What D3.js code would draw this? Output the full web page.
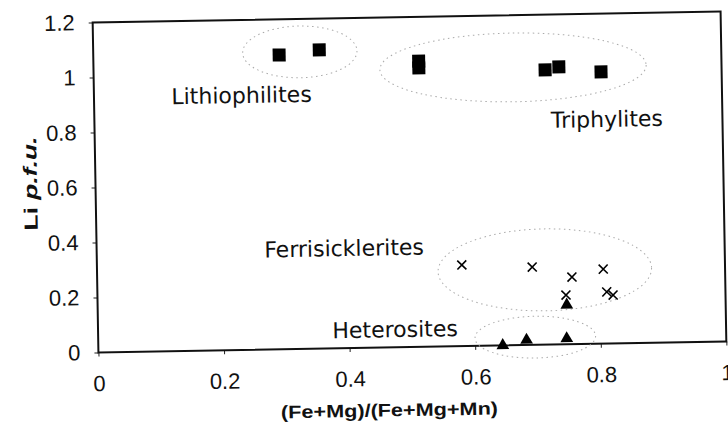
<!DOCTYPE html>
<html>
<head>
<meta charset="utf-8">
<script src="https://cdn.jsdelivr.net/npm/d3@7"></script>
<style>
  body { margin: 0; background: #fff; }
</style>
</head>
<body>
<div id="chart"></div>
<script>
// group -> points, [x, y] = [(Fe+Mg)/(Fe+Mg+Mn), Li p.f.u.]
var lithiophilites = [[0.296, 1.07], [0.360, 1.086]];
var triphylites = [[0.518, 1.039], [0.518, 1.014], [0.719, 0.999], [0.741, 1.009], [0.808, 0.988]];
var ferrisicklerites = [[0.581, 0.295], [0.693, 0.283], [0.756, 0.244], [0.746, 0.179],
                        [0.806, 0.271], [0.811, 0.188], [0.821, 0.176]];
var heterosites = [[0.747, 0.143], [0.644, 0.0], [0.682, 0.018], [0.746, 0.021]];

// dotted ellipses round each group: [cx, cy, rx, ry] in data units
var groupNames = ["Lithiophilites", "Triphylites", "Ferrisicklerites", "Heterosites"];
var groupEllipses = [[0.329, 1.08, 0.091, 0.094], [0.668, 1.010, 0.212, 0.125],
                     [0.713, 0.272, 0.170, 0.149], [0.696, 0.028, 0.096, 0.076]];
var groupLabelAt = [[0.235, 0.898], [0.816, 0.788], [0.394, 0.335], [0.473, 0.037]];

var xTicks = [0, 0.2, 0.4, 0.6, 0.8, 1];
var xTickLabels = ["0", "0.2", "0.4", "0.6", "0.8", "1"];
var yTicks = [0, 0.2, 0.4, 0.6, 0.8, 1, 1.2];
var yTickLabels = ["0", "0.2", "0.4", "0.6", "0.8", "1", "1.2"];

const WIDTH = 728;
const HEIGHT = 423;
const LEFT = 95.5, RIGHT = 723.5, TOP = 17, BOTTOM = 347;

var svg = d3.select("#chart")
    .append("svg")
    .attr("width", WIDTH)
    .attr("height", HEIGHT)
    .style("display", "block");

svg.append("rect")
    .attr("width", WIDTH)
    .attr("height", HEIGHT)
    .attr("fill", "#fff");

// the scan is turned about one degree
var g = svg.append("g")
    .attr("transform", "rotate(-1, 409.5, 182)");

var xScale = d3.scaleLinear().domain([0, 1]).range([LEFT, RIGHT]),
    yScale = d3.scaleLinear().domain([0, 1.2]).range([BOTTOM, TOP]);

// axes
var xAxis = g.append("g")
    .attr("transform", "translate(0," + BOTTOM + ")")
    .call(d3.axisBottom(xScale).tickValues(xTicks)
        .tickFormat(function (d, i) { return xTickLabels[i]; })
        .tickSize(4).tickPadding(19));

var yAxis = g.append("g")
    .attr("transform", "translate(" + LEFT + ",0)")
    .call(d3.axisLeft(yScale).tickValues(yTicks)
        .tickFormat(function (d, i) { return yTickLabels[i]; })
        .tickSize(4).tickPadding(14));

[xAxis, yAxis].forEach(function (a) {
    a.select(".domain").remove();
    a.selectAll("line").attr("stroke", "#222");
    a.selectAll("text")
        .style("font-family", "'Liberation Sans', Arial, sans-serif")
        .style("font-size", "22px")
        .attr("fill", "#111");
});

// frame
g.append("rect")
    .attr("x", LEFT)
    .attr("y", TOP)
    .attr("width", RIGHT - LEFT)
    .attr("height", BOTTOM - TOP)
    .attr("fill", "none")
    .attr("stroke", "#111")
    .attr("stroke-width", 2);

// dotted group outlines
g.append("g")
    .selectAll("ellipse")
    .data(groupEllipses)
    .enter()
    .append("ellipse")
    .attr("cx", function (d) { return xScale(d[0]); })
    .attr("cy", function (d) { return yScale(d[1]); })
    .attr("rx", function (d) { return xScale(d[2]) - xScale(0); })
    .attr("ry", function (d) { return yScale(0) - yScale(d[3]); })
    .attr("fill", "none")
    .attr("stroke", "#aaa")
    .attr("stroke-width", 1)
    .attr("stroke-dasharray", "1.5,3.5");

// group labels
g.append("g")
    .selectAll("text")
    .data(groupNames)
    .enter()
    .append("text")
    .attr("x", function (d, i) { return xScale(groupLabelAt[i][0]); })
    .attr("y", function (d, i) { return yScale(groupLabelAt[i][1]); })
    .attr("text-anchor", "middle")
    .style("font-family", "'DejaVu Sans', sans-serif")
    .style("font-size", "22px")
    .attr("fill", "#111")
    .text(function (d) { return d; });

// squares
g.append("g")
    .selectAll("rect")
    .data(lithiophilites.concat(triphylites))
    .enter()
    .append("rect")
    .attr("x", function (d) { return xScale(d[0]) - 6.5; })
    .attr("y", function (d) { return yScale(d[1]) - 6.5; })
    .attr("width", 13)
    .attr("height", 13)
    .attr("fill", "#000");

// crosses
g.append("g")
    .selectAll("path")
    .data(ferrisicklerites)
    .enter()
    .append("path")
    .attr("transform", function (d) { return "translate(" + xScale(d[0]) + "," + yScale(d[1]) + ")"; })
    .attr("d", "M-4.5,-4.5L4.5,4.5M-4.5,4.5L4.5,-4.5")
    .attr("stroke", "#000")
    .attr("stroke-width", 1.6)
    .attr("fill", "none");

// triangles
g.append("g")
    .selectAll("path")
    .data(heterosites)
    .enter()
    .append("path")
    .attr("transform", function (d) { return "translate(" + xScale(d[0]) + "," + yScale(d[1]) + ")"; })
    .attr("d", d3.symbol(d3.symbolTriangle, 70))
    .attr("fill", "#000");

// axis titles
g.append("text")
    .attr("x", (LEFT + RIGHT) / 2 - 24)
    .attr("y", 416)
    .attr("text-anchor", "middle")
    .attr("textLength", 217)
    .attr("lengthAdjust", "spacingAndGlyphs")
    .style("font-family", "'Liberation Sans', Arial, sans-serif")
    .style("font-size", "18px")
    .style("font-weight", "bold")
    .attr("fill", "#111")
    .text("(Fe+Mg)/(Fe+Mg+Mn)");

var yTitle = g.append("text")
    .attr("transform", "translate(37," + ((TOP + BOTTOM) / 2 - 5) + ") rotate(-90)")
    .attr("text-anchor", "middle")
    .attr("textLength", 94)
    .attr("lengthAdjust", "spacingAndGlyphs")
    .style("font-family", "'Liberation Sans', Arial, sans-serif")
    .style("font-size", "19px")
    .style("font-weight", "bold")
    .attr("fill", "#111");
yTitle.append("tspan").text("Li ");
yTitle.append("tspan").style("font-style", "italic").text("p.f.u.");
</script>
</body>
</html>
